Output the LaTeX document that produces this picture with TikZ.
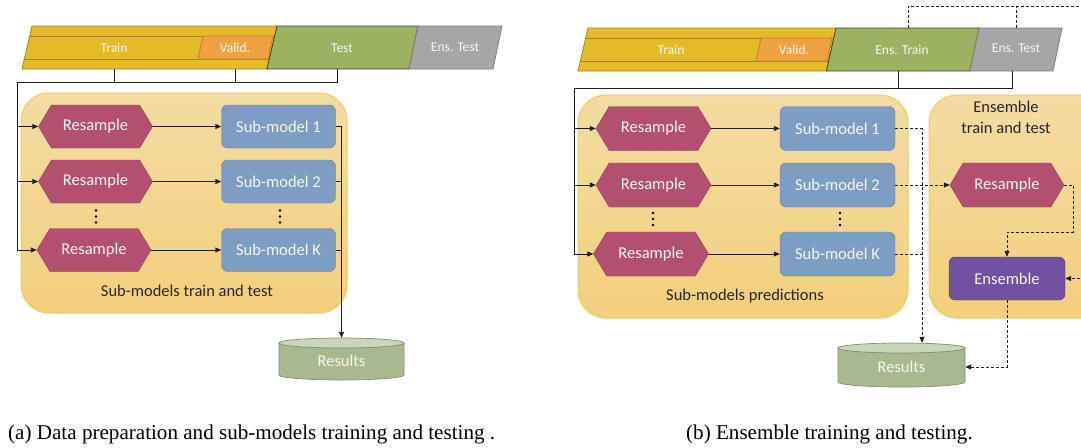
\documentclass[tikz,border=0pt]{standalone}
\usepackage{fontspec}
\setmainfont{Carlito}
\newfontfamily\capfont{Liberation Serif}
\usetikzlibrary{shapes.symbols,arrows.meta,calc}
\definecolor{goldf}{RGB}{228,186,40}
\definecolor{goldd}{RGB}{170,132,20}
\definecolor{validf}{RGB}{240,162,66}
\definecolor{validd}{RGB}{200,125,40}
\definecolor{testf}{RGB}{156,178,96}
\definecolor{testd}{RGB}{60,70,40}
\definecolor{grayf}{RGB}{166,166,166}
\definecolor{grayd}{RGB}{128,128,128}
\definecolor{contt}{RGB}{243,220,162}
\definecolor{contb}{RGB}{242,207,125}
\definecolor{contd}{RGB}{240,202,95}
\definecolor{resf}{RGB}{179,80,112}
\definecolor{resd}{RGB}{140,60,88}
\definecolor{subf}{RGB}{126,157,195}
\definecolor{subd}{RGB}{100,130,170}
\definecolor{ensf}{RGB}{112,82,160}
\definecolor{ensd}{RGB}{85,60,130}
\definecolor{cylf}{RGB}{168,184,145}
\definecolor{cylt}{RGB}{202,213,188}
\definecolor{cyld}{RGB}{128,143,108}
\definecolor{txtw}{RGB}{248,245,240}
\definecolor{lnc}{RGB}{30,30,30}
\tikzset{
  bigtxt/.style={font=\fontsize{16.5}{18}\selectfont},
  bartxt/.style={font=\fontsize{13.5}{15}\selectfont, text=txtw},
  hexa/.style={signal, signal to=west and east, signal pointer angle=118,
    minimum width=114pt, minimum height=43pt, inner sep=0pt,
    fill=resf, draw=resd, text=txtw, bigtxt},
  submod/.style={rectangle, rounded corners=6pt, minimum width=114pt,
    minimum height=43pt, inner sep=0pt, fill=subf, draw=subd, text=txtw, bigtxt},
  ensbox/.style={rectangle, rounded corners=6pt, minimum width=116pt,
    minimum height=43pt, inner sep=0pt, fill=ensf, draw=ensd, text=txtw, bigtxt},
  contbox/.style={rectangle, rounded corners=28pt, inner sep=0pt,
    top color=contt, bottom color=contb, draw=contd, line width=1pt},
  cyl/.style={inner sep=0pt, text=txtw, bigtxt},
  conn/.style={draw=lnc, line width=0.9pt},
  arr/.style={-{Triangle[length=6pt,width=5pt]}},
  dsh/.style={conn, dash pattern=on 3pt off 2pt},
}
\begin{document}
\begin{tikzpicture}[x=1pt,y=-1pt]
\clip (0,0) rectangle (1081,447);
\fill[white] (0,0) rectangle (1081,447);

% ================= (a) =================
\filldraw[fill=goldf, draw=goldd, line width=0.8pt] (32,26) -- (277,26) -- (267,69) -- (22,69) -- cycle;
\draw[goldd, line width=0.8pt] (29.7,36) -- (274.7,36) (24.3,59) -- (269.3,59);
\filldraw[fill=validf, draw=validd, line width=0.8pt] (203,36) -- (273,36) -- (268,59) -- (198,59) -- cycle;
\filldraw[fill=testf, draw=testd, line width=0.8pt] (277,26) -- (418,26) -- (409,69) -- (267,69) -- cycle;
\filldraw[fill=grayf, draw=grayd, line width=0.8pt] (418,26) -- (502,26) -- (493,69) -- (409,69) -- cycle;
\node[bartxt] (trainA) at (114,48) {Train};
\node[bartxt] (validA) at (235,48) {Valid.};
\node[bartxt] (testA) at (342,48) {Test};
\node[bartxt] (enstA) at (455,47) {Ens. Test};
\coordinate (trA) at (114,69);
\coordinate (vaA) at (235,69);
\coordinate (teA) at (337,69);
\coordinate (busA) at (17,82);

\node[contbox, minimum width=326pt, minimum height=220pt] (contA) at (184,203) {};
\node[bigtxt, text=black!85] (labA) at (187,291) {Sub-models train and test};

\node[hexa] (r1A) at (95.5,126.5) {Resample};
\node[hexa] (r2A) at (95.5,181.5) {Resample};
\node[hexa] (rKA) at (94,250) {Resample};
\node[submod] (s1A) at (278.5,126.5) {Sub-model 1};
\node[submod] (s2A) at (278.5,181.5) {Sub-model 2};
\node[submod] (sKA) at (278.5,250) {Sub-model K};
\foreach \yy in {210.5,216.5,222.5}{
  \fill (96,\yy) circle[radius=1.3];
  \fill (280,\yy) circle[radius=1.3];
}

\filldraw[fill=cylf, draw=cyld, line width=0.7pt] (279,343) -- (279,375) arc[start angle=180, end angle=0, x radius=62.5, y radius=5] -- (404,343) -- cycle;
\filldraw[fill=cylt, draw=cyld, line width=0.7pt] (341.5,343) ellipse[x radius=62.5, y radius=5];
\node[cyl, minimum width=125pt, minimum height=46pt] (resA) at (341.5,361) {Results};

\draw[conn] (trA) -- (trA |- busA);
\draw[conn] (vaA) -- (vaA |- busA);
\draw[conn] (teA) |- (busA);
\draw[conn, arr] (busA) |- (r1A.west);
\draw[conn, arr] (busA) |- (r2A.west);
\draw[conn, arr] (busA) |- (rKA.west);
\draw[conn, arr] (r1A.east) -- (s1A.west);
\draw[conn, arr] (r2A.east) -- (s2A.west);
\draw[conn, arr] (rKA.east) -- (sKA.west);
\draw[conn, arr] (s1A.east) -| (resA.north);
\draw[conn] (s2A.east) -- (s2A.east -| resA.north);
\draw[conn] (sKA.east) -- (sKA.east -| resA.north);

% ================= (b) =================
\filldraw[fill=goldf, draw=goldd, line width=0.8pt] (588,28) -- (836,28) -- (826.5,71) -- (578,71) -- cycle;
\draw[goldd, line width=0.8pt] (585.7,38) -- (833.8,38) (580.3,61) -- (828.7,61);
\filldraw[fill=validf, draw=validd, line width=0.8pt] (761,38) -- (832,38) -- (827,61) -- (756,61) -- cycle;
\filldraw[fill=testf, draw=testd, line width=0.8pt] (836,28) -- (979,28) -- (970,71) -- (826.5,71) -- cycle;
\filldraw[fill=grayf, draw=grayd, line width=0.8pt] (979,28) -- (1062,28) -- (1053,71) -- (970,71) -- cycle;
\node[bartxt] (trainB) at (671,50) {Train};
\node[bartxt] (validB) at (794,50) {Valid.};
\node[bartxt] (enstrB) at (902,50) {Ens. Train};
\node[bartxt] (enstB) at (1016,48) {Ens. Test};
\coordinate (etB) at (898,71);
\coordinate (esB) at (1012,71);
\coordinate (busB) at (574,88);
\coordinate (etT) at (908,28);
\coordinate (esT) at (1016,28);
\coordinate (topR) at (1090,6);
\coordinate (xB) at (922,0);
\coordinate (ensIn) at (1090,278.5);

\node[contbox, minimum width=330pt, minimum height=223pt] (contB) at (743,206.5) {};
\node[contbox, minimum width=180pt, minimum height=223pt] (contC) at (1019,206.5) {};
\node[bigtxt, text=black!85] (labB) at (745,296) {Sub-models predictions};
\node[bigtxt, text=black!85, align=center, font=\fontsize{16.5}{21}\selectfont] (labC) at (1006,117.5) {Ensemble\\train and test};

\node[hexa, minimum width=115pt, minimum height=44pt] (r1B) at (653.5,128.5) {Resample};
\node[hexa, minimum width=115pt, minimum height=44pt] (r2B) at (653.5,185) {Resample};
\node[hexa, minimum width=115pt, minimum height=44pt] (rKB) at (651,254) {Resample};
\node[submod, minimum width=115pt, minimum height=44pt] (s1B) at (837.5,128.5) {Sub-model 1};
\node[submod, minimum width=115pt, minimum height=44pt] (s2B) at (837.5,185) {Sub-model 2};
\node[submod, minimum width=115pt, minimum height=44pt] (sKB) at (837.5,254) {Sub-model K};
\foreach \yy in {213,219,225}{
  \fill (653,\yy) circle[radius=1.3];
  \fill (840,\yy) circle[radius=1.3];
}
\node[hexa, minimum width=114pt, minimum height=44pt] (eRB) at (1007,185) {Resample};
\node[ensbox] (ens) at (1007,278.5) {Ensemble};

\filldraw[fill=cylf, draw=cyld, line width=0.7pt] (838,348) -- (838,382) arc[start angle=180, end angle=0, x radius=63.5, y radius=5] -- (965,348) -- cycle;
\filldraw[fill=cylt, draw=cyld, line width=0.7pt] (901.5,348) ellipse[x radius=63.5, y radius=5];
\node[cyl, minimum width=127pt, minimum height=48pt] (resB) at (901.5,367) {Results};

\draw[conn] (etB) -- (etB |- busB);
\draw[conn] (esB) |- (busB);
\draw[conn, arr] (busB) |- (r1B.west);
\draw[conn, arr] (busB) |- (r2B.west);
\draw[conn, arr] (busB) |- (rKB.west);
\draw[conn, arr] (r1B.east) -- (s1B.west);
\draw[conn, arr] (r2B.east) -- (s2B.west);
\draw[conn, arr] (rKB.east) -- (sKB.west);
\draw[dsh, arr] (s1B.east) -| (resB.north -| xB);
\draw[dsh, arr] (s2B.east) -- (eRB.west);
\draw[dsh] (sKB.east) -- (sKB.east -| xB);
\draw[dsh, arr] (eRB.east) -- ++(9,0) -- ++(0,47) -| (ens.north);
\draw[dsh, arr] (ens.south) |- (resB.east);
\draw[dsh, arr] (ensIn) -- (ens.east);
\draw[dsh] (etT) -- (etT |- topR) -- (topR);
\draw[dsh] (esT) -- (esT |- topR);

\node[anchor=base west, inner sep=0pt, font=\capfont\fontsize{21.1}{23}\selectfont] (capA) at (8,439) {(a) Data preparation and sub-models training and testing .};
\node[anchor=base west, inner sep=0pt, font=\capfont\fontsize{21.1}{23}\selectfont] (capB) at (686,439) {(b) Ensemble training and testing.};
\end{tikzpicture}
\end{document}
